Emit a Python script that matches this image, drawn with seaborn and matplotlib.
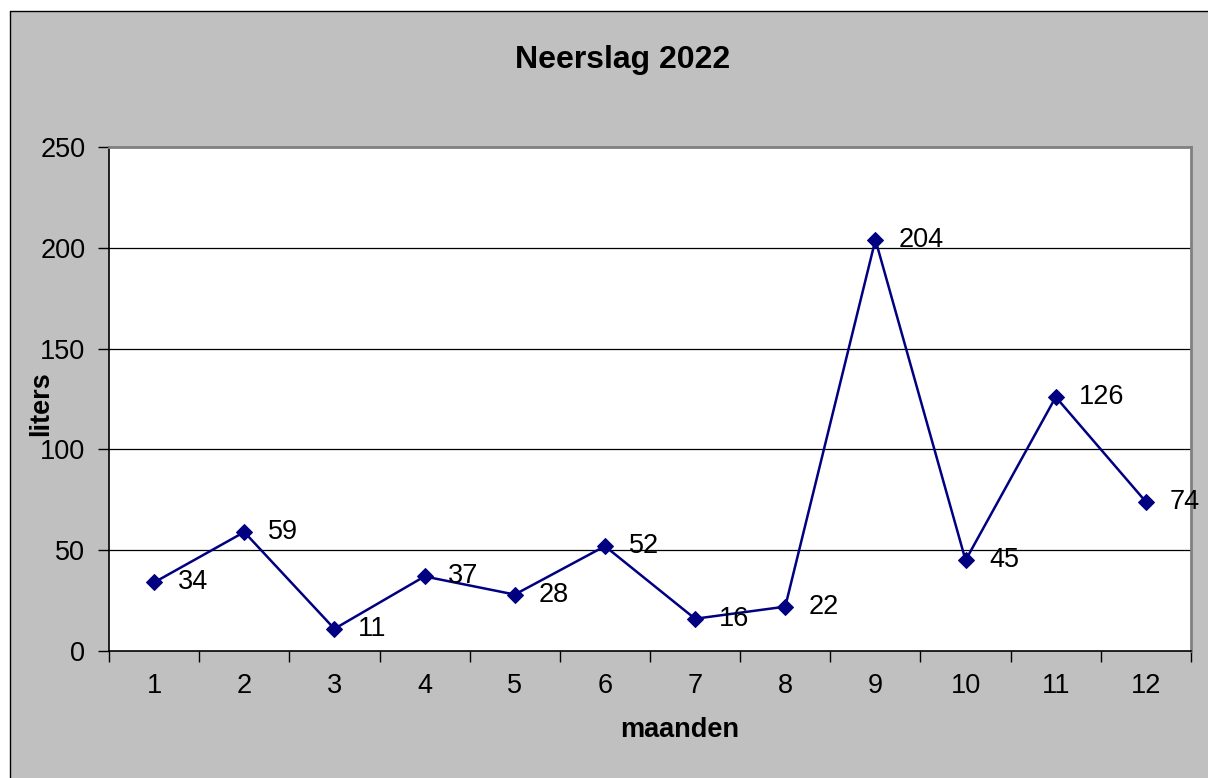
import matplotlib
matplotlib.use('Agg')
import matplotlib.pyplot as plt
import pandas as pd
import seaborn as sns
from matplotlib.lines import Line2D
from matplotlib.patches import Rectangle
from matplotlib.ticker import FixedLocator

# data
months = [1, 2, 3, 4, 5, 6, 7, 8, 9, 10, 11, 12]
neerslag = [34, 59, 11, 37, 28, 52, 16, 22, 204, 45, 126, 74]
y_ticks = [0, 50, 100, 150, 200, 250]

TITLE = 'Neerslag 2022'
X_LABEL = 'maanden'
Y_LABEL = 'liters'

NAVY = '#000080'
CHART_GREY = '#C0C0C0'


def main():
    sns.set_style('white')
    plt.rcParams['font.family'] = ['Liberation Sans', 'DejaVu Sans']
    plt.rcParams['text.color'] = 'black'
    plt.rcParams['axes.labelcolor'] = 'black'
    plt.rcParams['xtick.color'] = 'black'
    plt.rcParams['ytick.color'] = 'black'

    df = pd.DataFrame({'maand': months, 'liters': neerslag})

    fig = plt.figure(figsize=(12.08, 7.78), dpi=100, facecolor=CHART_GREY)

    # Excel-like grey chart area, black border only visible on left and top
    W, H = 1208, 778
    x0, y1 = 9.5 / W, 1 - 10.5 / H
    fig.add_artist(Rectangle((0, 0), x0, 1, transform=fig.transFigure,
                             facecolor='white', edgecolor='none', zorder=0))
    fig.add_artist(Rectangle((0, y1), 1, 1 - y1, transform=fig.transFigure,
                             facecolor='white', edgecolor='none', zorder=0))
    fig.add_artist(Line2D([x0, x0], [0, y1], transform=fig.transFigure,
                          color='black', linewidth=1.0, zorder=1))
    fig.add_artist(Line2D([x0, 1], [y1, y1], transform=fig.transFigure,
                          color='black', linewidth=1.0, zorder=1))

    ax = fig.add_axes([109 / W, 1 - 651 / H, 1082 / W, 504 / H])
    ax.set_facecolor('white')

    sns.lineplot(data=df, x='maand', y='liters', ax=ax, color=NAVY,
                 linewidth=1.8, marker='D', markersize=8.5,
                 markeredgecolor=NAVY, markerfacecolor=NAVY, zorder=3)

    for m, v in zip(months, neerslag):
        ax.annotate(str(v), (m, v), xytext=(17, 0), textcoords='offset points',
                    ha='left', va='center', fontsize=19.5, color='black',
                    zorder=4, annotation_clip=False)

    ax.set_xlim(0.5, 12.5)
    ax.set_ylim(0, 250)

    # y axis
    ax.set_yticks(y_ticks)
    ax.tick_params(axis='y', which='major', direction='out', length=8, width=1,
                   color='black', labelsize=19.5, pad=9, left=True)

    # x axis: ticks on category boundaries, labels in the middle
    ax.xaxis.set_major_locator(FixedLocator([m - 0.5 for m in months] + [12.5]))
    ax.xaxis.set_minor_locator(FixedLocator(months))
    ax.set_xticklabels([])
    ax.set_xticklabels([str(m) for m in months], minor=True)
    ax.tick_params(axis='x', which='major', direction='out', length=8, width=1,
                   color='black', bottom=True)
    ax.tick_params(axis='x', which='minor', length=0, labelsize=19.5, pad=15.5,
                   bottom=True)

    # horizontal gridlines only
    ax.grid(False)
    for v in y_ticks[1:-1]:
        ax.axhline(v, color='black', linewidth=0.9, zorder=1)

    for side in ['left', 'bottom']:
        ax.spines[side].set_color('black')
        ax.spines[side].set_linewidth(1.2)
    for side in ['top', 'right']:
        ax.spines[side].set_color('#808080')
        ax.spines[side].set_linewidth(2.0)

    ax.set_xlabel(X_LABEL, fontsize=19.5, fontweight='bold')
    ax.xaxis.set_label_coords((680 - 109) / 1082, -0.13)
    ax.set_ylabel(Y_LABEL, fontsize=19.5, fontweight='bold')
    ax.yaxis.set_label_coords(-0.051, 0.49)

    fig.text(623 / W, 1 - 60 / H, TITLE, ha='center', va='center',
             fontsize=23, fontweight='bold')

    fig.savefig('out.png', dpi=100, facecolor=CHART_GREY)
    plt.close(fig)


if __name__ == '__main__':
    main()
